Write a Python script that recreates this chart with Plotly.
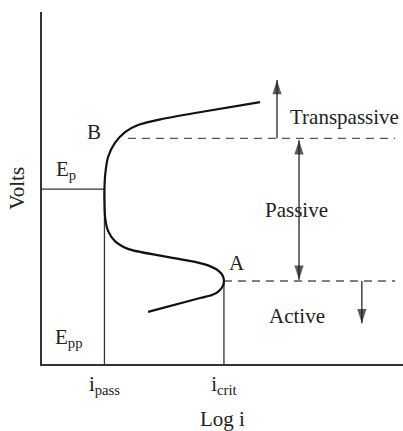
import plotly.graph_objects as go

# Schematic polarization curve (abstract units: Log i on x, Volts on y)
curve_logi = [2.94, 4.38, 4.71, 4.90, 5.01, 5.04, 5.01, 4.90, 4.65, 4.24, 3.32, 2.38, 2.02, 1.83,
              1.75, 1.73, 1.73, 1.75, 1.83, 2.02, 2.30, 2.66, 3.32, 4.24, 6.04]
curve_volts = [1.48, 1.875, 1.96, 2.07, 2.22, 2.36, 2.50, 2.64, 2.78, 2.90, 3.07, 3.27, 3.49, 3.78,
               4.15, 4.66, 4.97, 5.37, 5.88, 6.28, 6.59, 6.79, 6.96, 7.13, 7.44]

i_pass = 1.73
i_crit = 5.04
E_p = 4.97
V_trans = 6.41      # boundary passive / transpassive (point B level)
V_active = 2.36     # boundary active / passive (point A level)
B_dash_start = 2.38
dash_end = 9.78

tick_vals = [i_pass, i_crit]
tick_text = ["i<sub>pass</sub>", "i<sub>crit</sub>"]

arrow_trans_x, arrow_trans_top = 6.51, 8.07
arrow_pass_x = 7.12
arrow_act_x, arrow_act_bottom = 8.86, 1.16

FONT = "Liberation Serif"
TXT = "#222222"
LINE = "#333333"

fig = go.Figure()

def seg(x, y, color=LINE, width=1.3, dash=None):
    fig.add_trace(go.Scatter(x=x, y=y, mode="lines", hoverinfo="skip",
                             line=dict(color=color, width=width, dash=dash)))

# reference lines
seg([0, i_pass], [E_p, E_p])
seg([i_pass, i_pass], [0, E_p])
seg([i_crit, i_crit], [0, V_active])
seg([B_dash_start, dash_end], [V_trans, V_trans], color="#555555", width=1.4, dash="8px,6px")
seg([i_crit, dash_end], [V_active, V_active], color="#555555", width=1.4, dash="8px,6px")

# polarization curve
fig.add_trace(go.Scatter(x=curve_logi, y=curve_volts, mode="lines",
                         line=dict(color="#111111", width=2.2, shape="spline", smoothing=0.8),
                         hoverinfo="skip"))

# arrows: line + narrow arrowhead markers
def arrow(x, y_from, y_to, both=False):
    up = y_to > y_from
    end_angle = 0 if up else 180
    start_angle = 180 if up else 0
    fig.add_trace(go.Scatter(
        x=[x, x], y=[y_from, y_to], mode="lines+markers", hoverinfo="skip",
        line=dict(color=LINE, width=1.4),
        marker=dict(symbol="arrow", color="#1a1a1a", size=[15 if both else 0, 15],
                    angle=[start_angle, end_angle], line=dict(width=0))))

arrow(arrow_trans_x, V_trans, arrow_trans_top)
arrow(arrow_pass_x, V_active + 0.03, V_trans - 0.05, both=True)
arrow(arrow_act_x, V_active, arrow_act_bottom)

annotations = []
def label(x, y, text, size=21):
    annotations.append(dict(x=x, y=y, xref="x", yref="y", text=text, showarrow=False,
                            font=dict(family=FONT, size=size, color=TXT)))

label(8.37, 7.02, "Transpassive")
label(7.06, 4.38, "Passive")
label(7.06, 1.36, "Active")
label(5.40, 2.86, "A")
label(1.44, 6.59, "B")
label(0.66, 5.51, "E<sub>p</sub>")
label(0.75, 0.74, "E<sub>pp</sub>")

# y-axis title placed as a rotated annotation
annotations.append(dict(x=-0.07, y=0.5, xref="paper", yref="paper", text="Volts",
                        textangle=-90, showarrow=False, xanchor="center", yanchor="middle",
                        font=dict(family=FONT, size=21, color=TXT)))

fig.update_layout(
    width=403, height=431,
    margin=dict(l=42, r=0, t=12, b=67, autoexpand=False),
    paper_bgcolor="white", plot_bgcolor="white",
    showlegend=False,
    font=dict(family=FONT, size=21, color=TXT),
    annotations=annotations,
    xaxis=dict(range=[0, 10], showgrid=False, zeroline=False, showline=True,
               linecolor=LINE, linewidth=1.6, tickvals=tick_vals, ticktext=tick_text,
               ticks="", ticklabelstandoff=0, automargin=False,
               tickfont=dict(family=FONT, size=21, color=TXT),
               title=dict(text="Log i", standoff=14, font=dict(family=FONT, size=21, color=TXT))),
    yaxis=dict(range=[0, 10], showgrid=False, zeroline=False, showline=True, automargin=False,
               linecolor=LINE, linewidth=1.6, showticklabels=False, ticks=""),
)

fig.write_html("out.html", post_script="document.body.style.margin='0';",
               config={"displayModeBar": False})
